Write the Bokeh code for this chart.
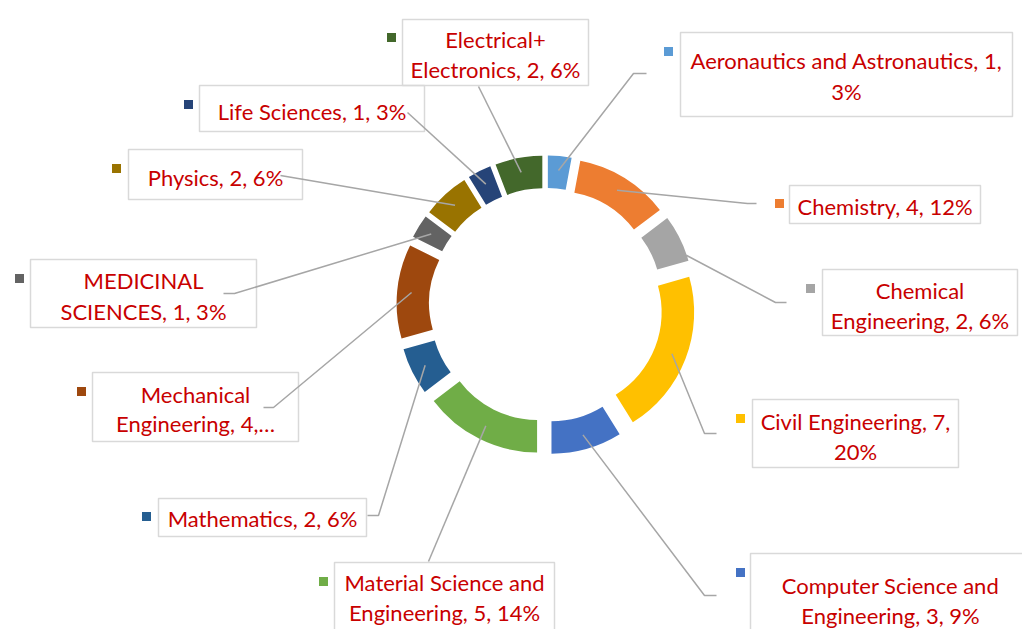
import numpy as np
from bokeh.plotting import figure
from bokeh.models import Range1d, ColumnDataSource
from bokeh.core.properties import value
from bokeh.embed import file_html
from bokeh.resources import INLINE

# ---------------- data ----------------
categories = ["Aeronautics and Astronautics", "Chemistry", "Chemical Engineering",
              "Civil Engineering", "Computer Science and Engineering",
              "Material Science and Engineering", "Mathematics",
              "Mechanical Engineering", "MEDICINAL SCIENCES", "Physics",
              "Life Sciences", "Electrical+ Electronics"]
counts = [1, 4, 2, 7, 3, 5, 2, 4, 1, 2, 1, 2]
percents = [3, 12, 6, 20, 9, 14, 6, 12, 3, 6, 3, 6]
colors = ["#5B9BD5", "#ED7D31", "#A5A5A5", "#FFC000", "#4472C4", "#70AD47",
          "#255E91", "#9E480E", "#636363", "#997300", "#264478", "#43682B"]
label_lines = [
    ["Aeronautics and Astronautics, 1,", "3%"],
    ["Chemistry, 4, 12%"],
    ["Chemical", "Engineering, 2, 6%"],
    ["Civil Engineering, 7,", "20%"],
    ["Computer Science and", "Engineering, 3, 9%"],
    ["Material Science and", "Engineering, 5, 14%"],
    ["Mathematics, 2, 6%"],
    ["Mechanical", "Engineering, 4,\u2026"],
    ["MEDICINAL", "SCIENCES, 1, 3%"],
    ["Physics, 2, 6%"],
    ["Life Sciences, 1, 3%"],
    ["Electrical+", "Electronics, 2, 6%"],
]

# ---------------- layout (image pixel coords, y down) ----------------
W, H = 1022, 629
def Y(v):
    return H - v

CX, CY = 545.5, Y(304.5)
R_OUT, R_IN = 129.5, 97.0
EXPLODE = 20.0

# boxes: left, top, right, bottom ; baselines ; key centre ; leader points (label side)
boxes = [
    (680, 32, 1012, 116), (789, 185, 980, 223), (822, 269, 1017, 335),
    (752, 399, 958, 467), (750, 553, 1030, 640), (334, 562, 554, 640),
    (158, 498, 366, 536), (92, 372, 298, 441), (30, 259, 256, 327),
    (128, 149, 302, 199), (199, 85, 424, 131), (402, 19, 588, 85),
]
baselines = [
    [67, 98], [213], [297, 327], [428, 458], [592, 622], [589, 619],
    [525], [401, 430], [287, 318], [184], [118], [46, 76],
]
keys = [
    (668, 51), (779, 203), (810, 288), (740, 418), (740, 572), (323, 581),
    (146, 516), (81, 391), (19, 278), (116, 168), (188, 104), (391, 37),
]
leader_pts = [
    [(646, 73), (633, 73)], [(756, 203), (747, 203)], [(786, 302), (775, 302)],
    [(716, 433), (704, 433)], [(716, 595), (704, 595)], [(428, 561)],
    [(367, 515), (378, 515)], [(263, 407), (273, 407)], [(223, 293), (234, 293)],
    [(280, 175)], [(407, 112)], [(478, 86)],
]
anchor_style = [(0, 115)] * 12
anchor_style[2] = (np.radians(8), 129)

TEXT_COLOR = "#C80000"
FONT = value("Lato")
FONT_SIZE = "22px"
TEXT_DY = 7  # renderer places the baseline slightly lower; compensate

# ---------------- geometry from data ----------------
total = sum(counts)
cum = np.concatenate([[0], np.cumsum(counts)])
t1 = cum[:-1] / total * 2 * np.pi
t2 = cum[1:] / total * 2 * np.pi
mid = (t1 + t2) / 2
xs = CX + EXPLODE * np.sin(mid)
ys = CY + EXPLODE * np.cos(mid)

p = figure(width=W, height=H, x_range=Range1d(0, W), y_range=Range1d(0, H),
           output_backend="svg", toolbar_location=None, min_border=0,
           x_axis_type=None, y_axis_type=None)
p.grid.visible = False
p.outline_line_color = None
p.background_fill_color = "white"

src = ColumnDataSource(dict(x=xs, y=ys, start=np.pi / 2 - t1, end=np.pi / 2 - t2,
                            color=colors, cat=categories))
p.annular_wedge(x="x", y="y", inner_radius=R_IN, outer_radius=R_OUT,
                start_angle="start", end_angle="end", direction="clock",
                fill_color="color", line_color=None, source=src)

# boxes
p.quad(left=[b[0] for b in boxes], right=[b[2] for b in boxes],
       top=[Y(b[1]) for b in boxes], bottom=[Y(b[3]) for b in boxes],
       fill_color="white", fill_alpha=0, line_color="#D9D9D9", line_width=1.5)

# leader lines
lx, ly = [], []
for i in range(len(counts)):
    off, r = anchor_style[i]
    ax = xs[i] + r * np.sin(mid[i] + off)
    ay = ys[i] + r * np.cos(mid[i] + off)
    pts = leader_pts[i]
    lx.append([q[0] for q in pts] + [ax])
    ly.append([Y(q[1]) for q in pts] + [ay])
p.multi_line(xs=lx, ys=ly, line_color="#A6A6A6", line_width=1.5)

# legend keys
p.rect(x=[k[0] for k in keys], y=[Y(k[1]) for k in keys], width=9, height=9,
       fill_color=colors, line_color=None)

# label text
tx, ty, tt = [], [], []
for i, lines in enumerate(label_lines):
    b = boxes[i]
    cxb = (b[0] + b[2]) / 2
    for line, bl in zip(lines, baselines[i]):
        tx.append(cxb)
        ty.append(Y(bl - TEXT_DY))
        tt.append(line)
p.text(x=tx, y=ty, text=tt, text_align="center", text_baseline="alphabetic",
       text_font=FONT, text_font_size=FONT_SIZE, text_color=TEXT_COLOR)

open("out.html", "w").write(file_html(p, INLINE))
